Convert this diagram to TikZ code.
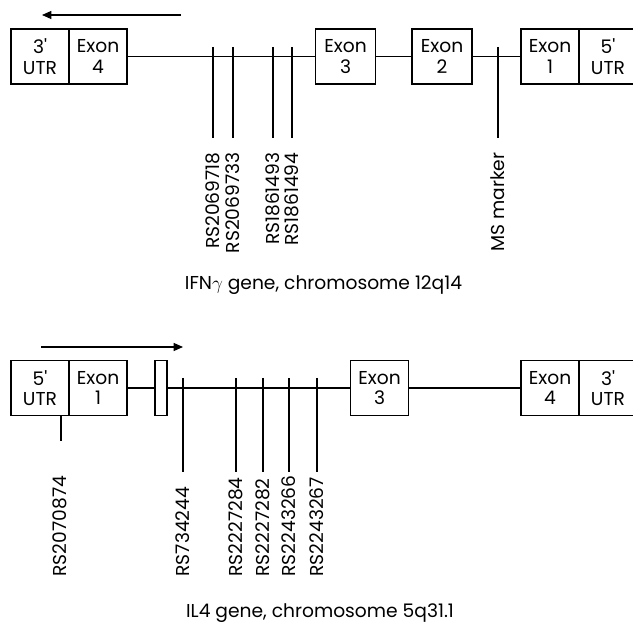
\documentclass[tikz,border=0pt]{standalone}
\usepackage{fontspec}
\setmainfont{Poppins}
\usepackage{tikz}
\usetikzlibrary{positioning, arrows.meta}

\begin{document}
\begin{tikzpicture}[
        x=0.75pt, y=-0.75pt, line width=0.9pt,
        genebox/.style = {draw, line width=0.9pt, minimum height=41.25pt, inner sep=0pt, align=center, font=\fontsize{14}{15.5}\selectfont},
        utrbox/.style = {genebox, minimum width=43.5pt},
        exonbox/.style = {genebox, minimum width=45pt},
        snplabel/.style = {rotate=90, inner sep=0pt, font=\fontsize{14}{15.5}\selectfont},
        caption/.style = {inner sep=0pt, anchor=base, font=\fontsize{14}{15.5}\selectfont},
        direction/.style = {-{Triangle[length=7pt, width=6pt]}, line width=0.9pt},
    ]
        \useasboundingbox (0,0) rectangle (633,630);

        % IFN-gamma gene
        \node[utrbox] (utrthreeA) at (40,56.5) {3\textquotesingle\\UTR};
        \node[utrbox] (exfourA) at (98,56.5) {Exon\\4};
        \node[exonbox] (exthreeA) at (345.5,56.5) {Exon\\3};
        \node[exonbox] (extwoA) at (442,56.5) {Exon\\2};
        \node[utrbox] (exoneA) at (550,56.5) {Exon\\1};
        \node[utrbox] (utrfiveA) at (608,56.5) {5\textquotesingle\\UTR};
        \draw (exfourA.east) -- (exthreeA.west);
        \draw (exthreeA.east) -- (extwoA.west);
        \draw (extwoA.east) -- (exoneA.west);

        \coordinate (tailA) at (181,15);
        \coordinate (headA) at (42,15);
        \draw[direction] (tailA) -- (headA);

        \foreach \name/\xpos/\txt in {rsA/213/RS2069718, rsB/233/RS2069733, rsC/273/RS1861493, rsD/292/RS1861494, msA/498/MS marker} {
            \coordinate (\name top) at (\xpos,47);
            \coordinate (\name bot) at (\xpos,138);
            \draw (\name top) -- (\name bot);
            \node[snplabel, anchor=east] (\name lab) at (\xpos,152) {\txt};
        }

        \node[caption] (capA) at (323.5,290) {IFN$\gamma$ gene, chromosome 12q14};

        % IL4 gene
        \node[utrbox] (utrfiveB) at (40,388) {5\textquotesingle\\UTR};
        \node[utrbox] (exoneB) at (98,388) {Exon\\1};
        \node[draw, minimum width=9pt, minimum height=41.25pt, inner sep=0pt] (smallB) at (161,388) {};
        \node[utrbox] (exthreeB) at (379.5,388) {Exon\\3};
        \node[utrbox] (exfourB) at (550,388) {Exon\\4};
        \node[utrbox] (utrthreeB) at (608,388) {3\textquotesingle\\UTR};
        \draw (exoneB.east) -- (smallB.west);
        \draw (smallB.east) -- (exthreeB.west);
        \draw (exthreeB.east) -- (exfourB.west);

        \coordinate (tailB) at (41,347);
        \coordinate (headB) at (183,347);
        \draw[direction] (tailB) -- (headB);

        \coordinate (rsEtop) at (61,416);
        \coordinate (rsEbot) at (61,441);
        \draw (rsEtop) -- (rsEbot);
        \node[snplabel, anchor=west] (rsElab) at (60,577) {RS2070874};

        \foreach \name/\xpos/\txt in {rsF/183/RS734244, rsG/236/RS2227284, rsH/263/RS2227282, rsI/289/RS2243266, rsJ/317/RS2243267} {
            \coordinate (\name top) at (\xpos,378);
            \coordinate (\name bot) at (\xpos,472);
            \draw (\name top) -- (\name bot);
            \node[snplabel, anchor=west] (\name lab) at (\xpos,577) {\txt};
        }

        \node[caption] (capB) at (320,618) {IL4 gene, chromosome 5q31.1};
    \end{tikzpicture}
\end{document}
